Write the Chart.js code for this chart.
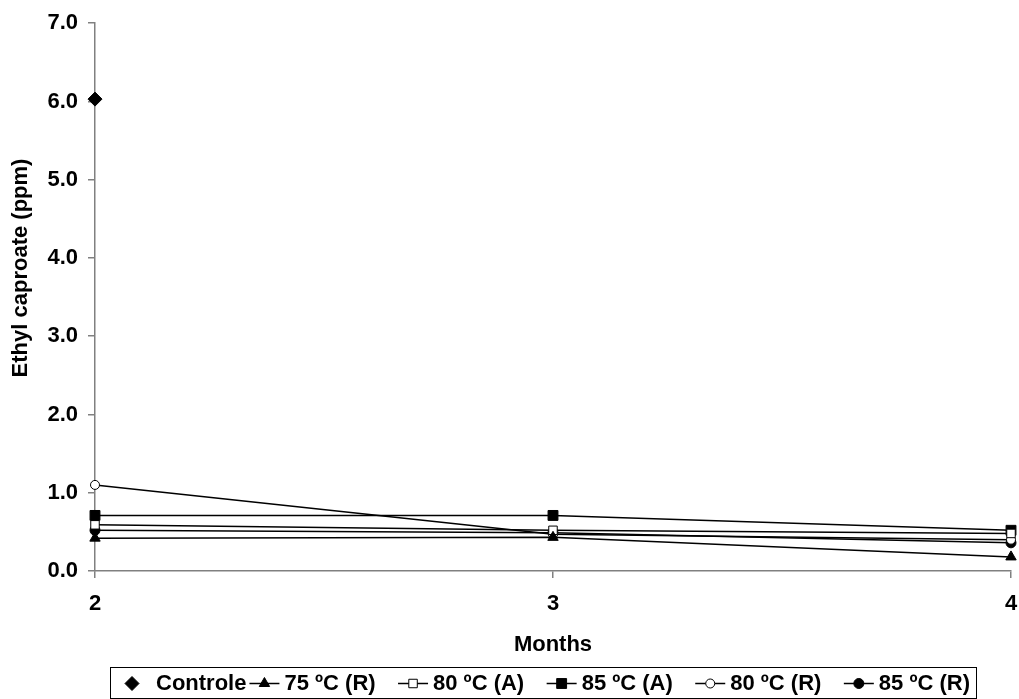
<!DOCTYPE html>
<html>
<head>
<meta charset="utf-8">
<script src="https://cdn.jsdelivr.net/npm/chart.js@4.4.1/dist/chart.umd.min.js"></script>
<style>
  html, body { margin: 0; padding: 0; background: #fff; }
  canvas { display: block; }
</style>
</head>
<body>
<canvas id="myChart" width="1019" height="699"></canvas>
<script>
// data
const months = [2, 3, 4];
const seriesNames = ["Controle", "75 ºC (R)", "80 ºC (A)", "85 ºC (A)", "80 ºC (R)", "85 ºC (R)"];
const controle = [6.03, null, null];
const r75 = [0.42, 0.43, 0.18];
const a80 = [0.59, 0.52, 0.48];
const a85 = [0.71, 0.71, 0.52];
const r80 = [1.10, 0.47, 0.40];
const r85 = [0.52, 0.49, 0.36];
const yTicks = [0, 1, 2, 3, 4, 5, 6, 7];
const yTitle = "Ethyl caproate (ppm)";
const xTitle = "Months";

const FONT = "'Liberation Sans', Arial, sans-serif";
const FONT_SIZE = 22;
const AXIS_GREY = "#808080";

function toPoints(values) {
  return months.map((m, i) => ({ x: m, y: values[i] }));
}

function makeSet(label, values, style, radius, filled) {
  return {
    label: label,
    data: toPoints(values),
    borderColor: "#000",
    borderWidth: 1.5,
    pointStyle: style,
    pointRadius: radius,
    pointBorderWidth: 1,
    pointBorderColor: "#000",
    pointBackgroundColor: filled ? "#000" : "#fff",
    tension: 0,
    clip: false,
  };
}

const datasets = [
  makeSet(seriesNames[0], controle, "rectRot", 7, true),
  makeSet(seriesNames[1], r75, "triangle", 6, true),
  makeSet(seriesNames[2], a80, "rect", 6, false),
  makeSet(seriesNames[3], a85, "rect", 7, true),
  makeSet(seriesNames[4], r80, "circle", 4.5, false),
  makeSet(seriesNames[5], r85, "circle", 5, true),
];
datasets[0].showLine = false;

//y title drawn by hand so it sits where the original has it
const yTitlePlugin = {
  id: "yTitle",
  afterDraw(chart) {
    const ctx = chart.ctx;
    ctx.save();
    ctx.translate(21, 268);
    ctx.rotate(-Math.PI / 2);
    ctx.font = "bold " + FONT_SIZE + "px " + FONT;
    ctx.fillStyle = "#000";
    ctx.textAlign = "center";
    ctx.textBaseline = "middle";
    ctx.fillText(yTitle, 0, 0);
    ctx.restore();
  },
};

//legend in a box under the chart, line + marker like the original
const legendBox = {
  id: "legendBox",
  afterDraw(chart) {
    const ctx = chart.ctx;
    const left = 110, right = 976, top = 667, h = 31;
    const cy = top + h / 2 + 1;
    const sample = 30, gapText = 5;
    ctx.save();
    ctx.font = "bold " + FONT_SIZE + "px " + FONT;
    ctx.strokeStyle = "#000";
    ctx.lineWidth = 1;
    ctx.strokeRect(left + 0.5, top + 0.5, right - left, h);

    const sets = chart.data.datasets;
    const firstEnd = 156 + ctx.measureText(sets[0].label).width;
    const firstText = firstEnd + 3 + sample + gapText;
    const lastW = ctx.measureText(sets[sets.length - 1].label).width;
    const step = (right - 6 - lastW - firstText) / (sets.length - 2);

    sets.forEach((ds, i) => {
      const tx = i === 0 ? 156 : firstText + (i - 1) * step;
      const mx = i === 0 ? 132 : tx - gapText - sample / 2;
      if (ds.showLine !== false) {
        ctx.beginPath();
        ctx.strokeStyle = "#000";
        ctx.lineWidth = 1.5;
        ctx.moveTo(mx - sample / 2, cy);
        ctx.lineTo(mx + sample / 2, cy);
        ctx.stroke();
      }
      ctx.fillStyle = ds.pointBackgroundColor;
      ctx.strokeStyle = "#000";
      ctx.lineWidth = 1;
      Chart.helpers.drawPoint(ctx, {
        pointStyle: ds.pointStyle,
        radius: ds.pointRadius,
        borderWidth: 1,
        rotation: 0,
      }, mx, cy);
      ctx.fillStyle = "#000";
      ctx.textAlign = "left";
      ctx.textBaseline = "middle";
      ctx.fillText(ds.label, tx, cy);
    });
    ctx.restore();
  },
};

const ctx = document.getElementById("myChart");

const myChart = new Chart(ctx, {
  type: "line",
  data: { datasets: datasets },
  options: {
    responsive: false,
    animation: false,
    layout: { padding: { top: 20, right: 8, left: 0, bottom: 39 } },
    plugins: {
      legend: { display: false },
      tooltip: { enabled: false },
    },
    scales: {
      x: {
        type: "linear",
        min: 2,
        max: 4,
        afterFit: (scale) => {
          scale.height = 89;
          scale.paddingLeft = 0;
          scale.paddingRight = 0;
        },
        afterBuildTicks: (scale) => { scale.ticks = months.map((v) => ({ value: v })); },
        ticks: {
          color: "#000",
          padding: 13,
          font: { family: FONT, size: FONT_SIZE, weight: "bold" },
        },
        grid: { drawOnChartArea: false, drawTicks: true, tickLength: 7, color: AXIS_GREY, lineWidth: 1.5 },
        border: { color: AXIS_GREY, width: 1.5 },
        title: {
          display: true,
          text: xTitle,
          color: "#000",
          padding: { top: 0, bottom: 2 },
          font: { family: FONT, size: FONT_SIZE, weight: "bold" },
        },
      },
      y: {
        min: 0,
        max: 7,
        afterFit: (scale) => { scale.width = 95; },
        afterBuildTicks: (scale) => { scale.ticks = yTicks.map((v) => ({ value: v })); },
        ticks: {
          color: "#000",
          padding: 10,
          callback: (v) => Number(v).toFixed(1),
          font: { family: FONT, size: FONT_SIZE, weight: "bold" },
        },
        grid: { drawOnChartArea: false, drawTicks: true, tickLength: 7, color: AXIS_GREY, lineWidth: 1.5 },
        border: { color: AXIS_GREY, width: 1.5 },
      },
    },
  },
  plugins: [yTitlePlugin, legendBox],
});
</script>
</body>
</html>
